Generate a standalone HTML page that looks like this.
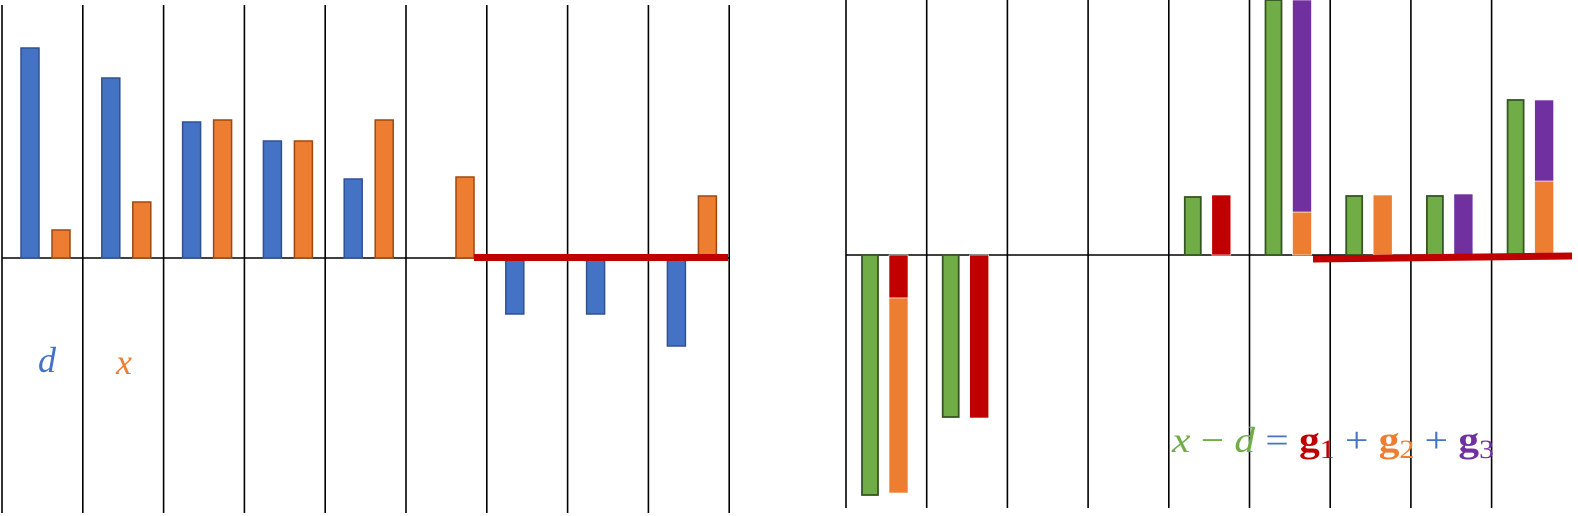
<!DOCTYPE html>
<html><head><meta charset="utf-8"><style>
html,body{margin:0;padding:0;background:#fff;}
svg{display:block;}
</style></head><body>
<svg id="chart" width="1578" height="516" viewBox="0 0 1578 516" xmlns="http://www.w3.org/2000/svg">
<g id="left"></g>
<g id="right"></g>
<text x="38" y="372" font-family="Liberation Serif, serif" font-style="italic" font-size="36" fill="#4472C4">d</text>
<text x="116" y="374" font-family="Liberation Serif, serif" font-style="italic" font-size="36" fill="#ED7D31">x</text>
<text x="1172" y="452" font-family="Liberation Serif, serif" font-size="36" textLength="322" lengthAdjust="spacingAndGlyphs"><tspan fill="#70AD47" font-style="italic">x</tspan><tspan fill="#70AD47"> − </tspan><tspan fill="#70AD47" font-style="italic">d</tspan><tspan fill="#4472C4"> = </tspan><tspan fill="#C00000" font-weight="bold">g</tspan><tspan fill="#C00000" font-size="26" dy="6">1</tspan><tspan fill="#4472C4" dy="-6"> + </tspan><tspan fill="#ED7D31" font-weight="bold">g</tspan><tspan fill="#ED7D31" font-size="26" dy="6">2</tspan><tspan fill="#4472C4" dy="-6"> + </tspan><tspan fill="#7030A0" font-weight="bold">g</tspan><tspan fill="#7030A0" font-size="26" dy="6">3</tspan></text>
</svg>
<script>
// Left panel data
const leftCategories = [0,1,2,3,4,5,6,7,8];
const dValues = [210, 180, 136, 117, 79, 0, -56, -56, -88];
const xValues = [28, 56, 138, 117, 138, 81, 0, 0, 62];
// Right panel data
const rightCategories = [0,1,2,3,4,5,6,7,8];
const diffValues = [-240, -162, 0, 0, 58, 255, 59, 59, 155];
const g1Values = [-43, -163, 0, 0, 60, 0, 0, 0, 0];
const g2Values = [-195, 0, 0, 0, 0, 43, 60, 0, 74];
const g3Values = [0, 0, 0, 0, 0, 212, 0, 61, 81];

const NS = 'http://www.w3.org/2000/svg';
function mk(tag, attrs, parent){
  const e = document.createElementNS(NS, tag);
  for (const k in attrs) e.setAttribute(k, attrs[k]);
  parent.appendChild(e);
  return e;
}
// Left axes
const L = {x0: 2, step: 80.8, base: 258, top: 5, bottom: 513};
const lx = i => L.x0 + i * L.step;
const ly = v => L.base - v;
const left = document.getElementById('left');
for (let i = 0; i <= leftCategories.length; i++) {
  const ln = mk('line', {x1: lx(i), x2: lx(i), y1: L.top, y2: L.bottom, stroke: '#000', 'stroke-width': 1.6}, left);
  
  
}
const lb = mk('line', {x1: lx(0), x2: lx(9), y1: L.base, y2: L.base, stroke: '#000', 'stroke-width': 1.6}, left);


leftCategories.forEach((c, i) => {
  const dv = dValues[i];
  if (dv !== 0) {
    const r = mk('rect', {x: lx(i) + 19, y: Math.min(ly(dv), ly(0)), width: 18, height: Math.abs(dv), fill: '#4472C4', stroke: '#2F528F', 'stroke-width': 1.5}, left);
    
    
  }
  const xv = xValues[i];
  if (xv !== 0) {
    const r = mk('rect', {x: lx(i) + 50, y: Math.min(ly(xv), ly(0)), width: 18, height: Math.abs(xv), fill: '#ED7D31', stroke: '#9E480E', 'stroke-width': 1.5}, left);
    
    
  }
});
const lred = mk('line', {x1: 474, x2: 728, y1: 257.5, y2: 257.5, stroke: '#C00000', 'stroke-width': 7}, left);



// Right axes
const R = {x0: 846, step: 80.7, base: 255, top: 0, bottom: 508};
const rx = i => R.x0 + i * R.step;
const ry = v => R.base - v;
const right = document.getElementById('right');
for (let i = 0; i <= 8; i++) {
  const ln = mk('line', {x1: rx(i), x2: rx(i), y1: R.top, y2: R.bottom, stroke: '#000', 'stroke-width': 1.6}, right);
  
  
}
const rb = mk('line', {x1: rx(0), x2: 1570, y1: R.base, y2: R.base, stroke: '#000', 'stroke-width': 1.6}, right);


const gColors = ['#C00000', '#ED7D31', '#7030A0'];
const gSeries = [g1Values, g2Values, g3Values];
rightCategories.forEach((c, i) => {
  const dv = diffValues[i];
  if (dv !== 0) {
    const r = mk('rect', {x: rx(i) + 16, y: Math.min(ry(dv), ry(0)), width: 16, height: Math.abs(dv), fill: '#70AD47', stroke: '#375623', 'stroke-width': 1.8}, right);
    
    
  }
  let pos = 0, neg = 0;
  gSeries.forEach((s, k) => {
    const v = s[i];
    if (v === 0) return;
    let y0, y1;
    if (v > 0) { y0 = pos; y1 = pos + v; pos = y1; }
    else { y0 = neg; y1 = neg + v; neg = y1; }
    const r = mk('rect', {x: rx(i) + 43, y: Math.min(ry(y0), ry(y1)), width: 19, height: Math.abs(v), fill: gColors[k], stroke: '#fff', 'stroke-width': 0.6}, right);
    
    
  });
});
const rred = mk('line', {x1: 1313, x2: 1572, y1: 259, y2: 256, stroke: '#C00000', 'stroke-width': 7}, right);


</script>
</body></html>
